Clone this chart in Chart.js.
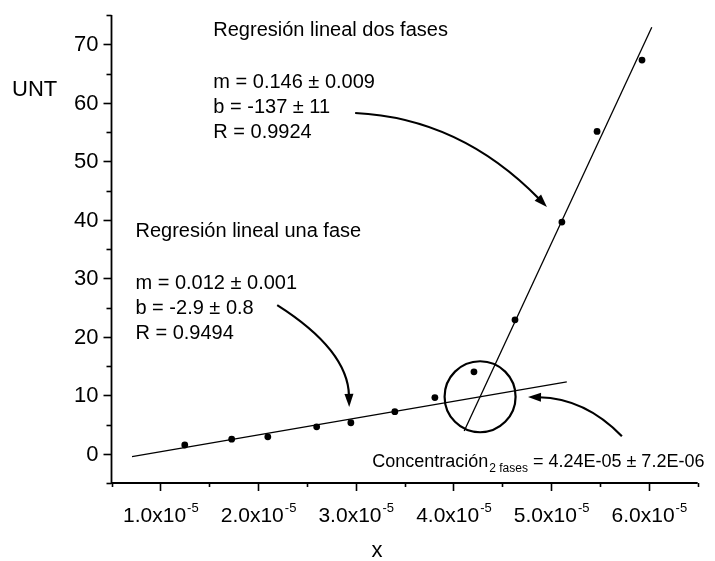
<!DOCTYPE html>
<html>
<head>
<meta charset="utf-8">
<script src="https://cdn.jsdelivr.net/npm/chart.js@4/dist/chart.umd.min.js"></script>
<style>
  html, body { margin: 0; padding: 0; background: #fff; }
  #wrap { width: 715px; height: 561px; position: relative; }
</style>
</head>
<body>
<div id="wrap"><canvas id="c" width="715" height="561"></canvas></div>
<script>
// Measured samples: concentration (x) and turbidity (UNT)
const concentration = [1.25e-5, 1.73e-5, 2.10e-5, 2.60e-5, 2.95e-5, 3.40e-5, 3.81e-5, 4.21e-5, 4.63e-5, 5.11e-5, 5.47e-5, 5.93e-5];
const unt = [1.5, 2.5, 2.9, 4.6, 5.3, 7.2, 9.6, 14.0, 22.9, 39.6, 55.1, 67.3];

// Fitted segments: one-phase and two-phase regressions (x, y end points)
const fitOnePhaseX = [0.71e-5, 5.16e-5];
const fitOnePhaseY = [-0.5, 12.3];
const fitTwoPhaseX = [4.11e-5, 6.03e-5];
const fitTwoPhaseY = [3.9, 72.9];

// Axis ticks
const xMajorTicks = [1.0e-5, 2.0e-5, 3.0e-5, 4.0e-5, 5.0e-5, 6.0e-5];
const xTickLabels = ['1.0x10', '2.0x10', '3.0x10', '4.0x10', '5.0x10', '6.0x10'];
const xTickExp = '-5';
const yMajorTicks = [0, 10, 20, 30, 40, 50, 60, 70];

// Fit summaries
const textTwoPhase = ['Regresión lineal dos fases', 'm = 0.146 ± 0.009', 'b = -137 ± 11', 'R = 0.9924'];
const textOnePhase = ['Regresión lineal una fase', 'm = 0.012 ± 0.001', 'b = -2.9 ± 0.8', 'R = 0.9494'];
const textConc = ['Concentración', '2 fases', ' = 4.24E-05 ± 7.2E-06'];

const FONT = '"Liberation Sans", Arial, Helvetica, sans-serif';
const X_MIN = 0.5e-5, X_MAX = 6.5e-5, Y_MIN = -5, Y_MAX = 75;

function pairs(xs, ys) { return xs.map((x, i) => ({ x: x, y: ys[i] })); }

// Intersection of the two fitted segments (centre of the highlight circle)
function intersection() {
  const m1 = (fitOnePhaseY[1] - fitOnePhaseY[0]) / (fitOnePhaseX[1] - fitOnePhaseX[0]);
  const b1 = fitOnePhaseY[0] - m1 * fitOnePhaseX[0];
  const m2 = (fitTwoPhaseY[1] - fitTwoPhaseY[0]) / (fitTwoPhaseX[1] - fitTwoPhaseX[0]);
  const b2 = fitTwoPhaseY[0] - m2 * fitTwoPhaseX[0];
  const x = (b2 - b1) / (m1 - m2);
  return { x: x, y: m1 * x + b1 };
}

const decorations = {
  id: 'decorations',
  afterDraw(chart) {
    const ctx = chart.ctx;
    const xs = chart.scales.x, ys = chart.scales.y;
    const px = v => xs.getPixelForValue(v);
    const py = v => ys.getPixelForValue(v);
    const area = chart.chartArea;

    ctx.save();
    ctx.strokeStyle = '#000';
    ctx.fillStyle = '#000';
    ctx.lineCap = 'butt';

    // axis lines
    ctx.lineWidth = 1.8;
    ctx.beginPath();
    ctx.moveTo(area.left, area.top);
    ctx.lineTo(area.left, area.bottom);
    ctx.lineTo(area.right, area.bottom);
    ctx.stroke();

    // y ticks (major every 10, minor every 5)
    ctx.lineWidth = 1.6;
    for (let v = Y_MIN; v <= Y_MAX; v += 5) {
      const y = Math.round(py(v)) + 0.5;
      const major = v % 10 === 0;
      ctx.beginPath();
      ctx.moveTo(area.left, y);
      ctx.lineTo(area.left - (major ? 8 : 5), y);
      ctx.stroke();
    }
    // x ticks (major every 1e-5, minor in between)
    for (let i = 0; i <= 12; i++) {
      const v = X_MIN + i * 0.5e-5;
      const x = Math.round(px(v)) + 0.5;
      const major = i % 2 === 1;
      ctx.beginPath();
      ctx.moveTo(x, area.bottom);
      ctx.lineTo(x, area.bottom + (major ? 8 : 4));
      ctx.stroke();
    }

    // y tick labels
    ctx.font = '22px ' + FONT;
    ctx.textAlign = 'right';
    ctx.textBaseline = 'middle';
    yMajorTicks.forEach(v => ctx.fillText(String(v), area.left - 13, py(v) + 1));

    // x tick labels with exponent
    ctx.textBaseline = 'alphabetic';
    ctx.textAlign = 'left';
    xMajorTicks.forEach((v, i) => {
      ctx.font = '21px ' + FONT;
      const w1 = ctx.measureText(xTickLabels[i]).width;
      ctx.font = '13px ' + FONT;
      const w2 = ctx.measureText(xTickExp).width;
      const x0 = px(v) - (w1 + w2) / 2;
      const base = area.bottom + 39;
      ctx.font = '21px ' + FONT;
      ctx.fillText(xTickLabels[i], x0, base);
      ctx.font = '13px ' + FONT;
      ctx.fillText(xTickExp, x0 + w1 + 1, base - 10);
    });

    // axis titles
    ctx.font = '22px ' + FONT;
    ctx.textAlign = 'center';
    ctx.fillText('x', 377, 557);
    ctx.textAlign = 'left';
    ctx.fillText('UNT', 12, 96);

    // fit summaries
    function block(lines, xv, yv) {
      const x = px(xv), y = py(yv);
      ctx.font = '20px ' + FONT;
      ctx.textAlign = 'left';
      ctx.fillText(lines[0], x, y);
      for (let i = 1; i < lines.length; i++) ctx.fillText(lines[i], x, y + 52 + (i - 1) * 25);
    }
    block(textTwoPhase, 1.542e-5, 71.4);
    block(textOnePhase, 0.745e-5, 37.0);

    // concentration label with subscript
    {
      let x = px(3.168e-5);
      const y = py(-2.3);
      ctx.font = '18px ' + FONT;
      ctx.fillText(textConc[0], x, y);
      x += ctx.measureText(textConc[0]).width + 1;
      ctx.font = '12px ' + FONT;
      ctx.fillText(textConc[1], x, y + 5);
      x += ctx.measureText(textConc[1]).width;
      ctx.font = '18px ' + FONT;
      ctx.fillText(textConc[2], x, y);
    }

    // curved arrows
    function arrow(p0, c, p1) {
      const x0 = px(p0[0]), y0 = py(p0[1]);
      const cx = px(c[0]), cy = py(c[1]);
      const x1 = px(p1[0]), y1 = py(p1[1]);
      const ang = Math.atan2(y1 - cy, x1 - cx);
      const len = 13, half = 4.5;
      const bx = x1 - Math.cos(ang) * (len - 2), by = y1 - Math.sin(ang) * (len - 2);
      ctx.lineWidth = 2.2;
      ctx.beginPath();
      ctx.moveTo(x0, y0);
      ctx.quadraticCurveTo(cx, cy, bx, by);
      ctx.stroke();
      const hx = x1 - Math.cos(ang) * len, hy = y1 - Math.sin(ang) * len;
      ctx.beginPath();
      ctx.moveTo(x1, y1);
      ctx.lineTo(hx + Math.sin(ang) * half, hy - Math.cos(ang) * half);
      ctx.lineTo(hx - Math.sin(ang) * half, hy + Math.cos(ang) * half);
      ctx.closePath();
      ctx.fill();
    }
    arrow([2.994e-5, 58.25], [4.067e-5, 57.4], [4.957e-5, 42.2]);
    arrow([2.196e-5, 25.4], [2.922e-5, 17.7], [2.933e-5, 8.0]);
    arrow([5.724e-5, 3.0], [5.346e-5, 9.5], [4.763e-5, 9.7]);

    // highlight circle around the intersection
    const ip = intersection();
    ctx.lineWidth = 2.2;
    ctx.beginPath();
    ctx.arc(px(ip.x), py(ip.y), 35.5, 0, Math.PI * 2);
    ctx.stroke();

    ctx.restore();
  }
};

new Chart(document.getElementById('c'), {
  type: 'scatter',
  data: {
    datasets: [
      {
        data: pairs(concentration, unt),
        showLine: false,
        pointRadius: 3.4,
        pointBackgroundColor: '#000',
        pointBorderColor: '#000',
        pointBorderWidth: 0
      },
      {
        data: pairs(fitOnePhaseX, fitOnePhaseY),
        showLine: true,
        borderColor: '#000',
        borderWidth: 1.3,
        pointRadius: 0
      },
      {
        data: pairs(fitTwoPhaseX, fitTwoPhaseY),
        showLine: true,
        borderColor: '#000',
        borderWidth: 1.3,
        pointRadius: 0
      }
    ]
  },
  options: {
    responsive: false,
    animation: false,
    devicePixelRatio: 1,
    layout: { padding: { left: 111.5, right: 17.3, top: 15, bottom: 78 } },
    plugins: { legend: { display: false }, tooltip: { enabled: false } },
    scales: {
      x: { type: 'linear', min: X_MIN, max: X_MAX, display: false },
      y: { type: 'linear', min: Y_MIN, max: Y_MAX, display: false }
    }
  },
  plugins: [decorations]
});
</script>
</body>
</html>
